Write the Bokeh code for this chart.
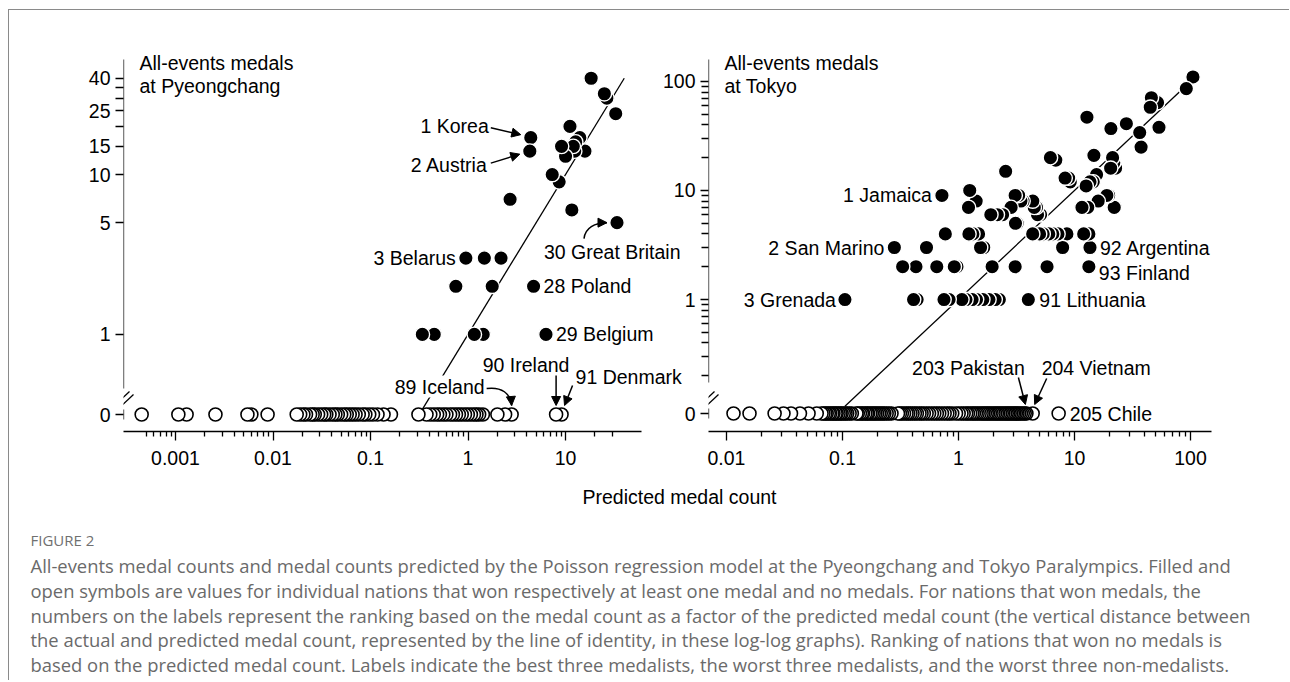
import math
from bokeh.plotting import figure
from bokeh.models import (Range1d, FixedTicker, ColumnDataSource, LabelSet, Label,
                          Arrow, NormalHead)
from bokeh.layouts import row, column
from bokeh.embed import file_html
from bokeh.resources import INLINE
from bokeh.core.properties import value

# ------------------------------------------------------------------ data
x_axis_title = "Predicted medal count"

# Pyeongchang: nations that won medals (predicted count, actual count)
pc_title = ["All-events medals", "at Pyeongchang"]
pc_win_pred = [18.3, 25.0, 26.5, 32.7, 11.1, 4.4, 14.0, 9.1, 12.7, 12.0,
               4.3, 15.8, 12.4, 10.0, 7.3, 8.6, 2.7, 11.6, 33.7, 0.95,
               1.47, 2.18, 0.75, 1.77, 4.7, 0.34, 0.45, 1.16, 1.43, 6.3]
pc_win_medals = [40, 32, 30, 24, 20, 17, 17, 15, 16, 15,
                 14, 14, 14, 13, 10, 9, 7, 6, 5, 3,
                 3, 3, 2, 2, 2, 1, 1, 1, 1, 1]
# Pyeongchang: nations with no medal (predicted count)
pc_zero_pred = [0.00045, 0.00107, 0.0013, 0.00257, 0.00547, 0.0060, 0.0088,
                0.0175, 0.019, 0.0205, 0.0218, 0.024, 0.0255, 0.0268, 0.029, 0.0312, 0.0335,
                0.0352, 0.038, 0.041, 0.0436, 0.0462, 0.05, 0.0538, 0.057, 0.0612, 0.0655,
                0.0702, 0.0758, 0.083, 0.0885, 0.097, 0.106, 0.118, 0.136, 0.162,
                0.31, 0.375, 0.41, 0.445, 0.482, 0.515, 0.558, 0.6, 0.655, 0.7,
                0.752, 0.805, 0.862, 0.93, 0.995, 1.07, 1.15, 1.22, 1.3, 1.42,
                2.0, 2.4, 2.8, 8.0, 9.1]
pc_identity = [0.34, 40]
pc_x_ticks = [0.001, 0.01, 0.1, 1, 10]
pc_x_tick_labels = ["0.001", "0.01", "0.1", "1", "10"]
pc_y_ticks = [1, 5, 10, 15, 20, 25, 30, 35, 40]
pc_y_tick_labels = ["1", "5", "10", "15", "", "25", "", "", "40"]
pc_lab_text = ["1 Korea", "2 Austria", "3 Belarus", "28 Poland", "29 Belgium",
               "30 Great Britain", "89 Iceland", "90 Ireland", "91 Denmark"]
pc_lab_pred = [4.4, 4.3, 0.95, 4.7, 6.3, 33.7, 2.8, 8.0, 9.1]
pc_lab_medals = [17, 14, 3, 2, 1, 5, 0, 0, 0]

# Tokyo
tk_title = ["All-events medals", "at Tokyo"]
tk_win_pred = [105, 92, 46, 45, 52, 12.8, 28, 20.6, 53.5, 36.5,
               37.5, 6.2, 6.9, 14.7, 21.3, 21.8, 20.5, 8.3, 9.2, 15.5,
               14.5, 12.6, 2.55, 0.72, 1.25, 1.42, 1.22, 3.08, 3.45, 4.37,
               4.5, 4.8, 11.6, 16, 19, 22, 13, 2.84, 3.2, 1.9,
               2.16, 3.1, 0.77, 1.23, 1.33, 1.49, 4.36, 5.0, 5.37, 6.0,
               6.5, 7.2, 8.6, 12, 13.3, 0.28, 0.53, 1.55, 1.65, 7.9,
               13.6, 0.33, 0.43, 0.65, 0.92, 0.97, 1.95, 3.08, 5.8, 13.3,
               0.105, 0.41, 0.44, 0.75, 0.83, 1.07, 1.16, 1.31, 1.43, 1.62,
               1.83, 2.07, 2.25, 4.0, 19.7, 22.6, 13.6, 8.9, 4.7, 3.3,
               3.6, 5.1, 2.4]
tk_win_medals = [110, 86, 71, 58, 64, 47, 41, 37, 38, 34,
                 25, 20, 19, 21, 20, 18, 16, 13, 12, 14,
                 12, 11, 15, 9, 10, 8, 7, 9, 8, 8,
                 7, 6, 7, 8, 9, 7, 7, 7, 5, 6,
                 6, 5, 4, 4, 4, 4, 4, 4, 4, 4,
                 4, 4, 4, 4, 4, 3, 3, 3, 3, 3,
                 3, 2, 2, 2, 2, 2, 2, 2, 2, 2,
                 1, 1, 1, 1, 1, 1, 1, 1, 1, 1,
                 1, 1, 1, 1, 9, 16, 12, 13, 7, 9,
                 8, 6, 6]
tk_zero_pred = [0.0115, 0.0158, 0.026, 0.031, 0.036, 0.043, 0.051, 0.060,
                0.066, 0.0685, 0.0712, 0.0731, 0.0762, 0.0785, 0.0818, 0.0836, 0.0872,
                0.0891, 0.0925, 0.0958, 0.0984, 0.1025, 0.1062, 0.1098, 0.1152, 0.1204,
                0.132, 0.1355, 0.1412, 0.1468, 0.1505, 0.1572, 0.1625, 0.1663, 0.1735,
                0.1792, 0.1856, 0.1921, 0.1987, 0.2065, 0.2138, 0.2224, 0.2295, 0.2403,
                0.2511, 0.2646,
                0.301, 0.3125, 0.3248, 0.3392, 0.3561, 0.3687, 0.3852, 0.4014, 0.4205,
                0.4377, 0.4612, 0.4803, 0.5026, 0.5311, 0.5575, 0.5892, 0.6184, 0.6507,
                0.6823, 0.7206, 0.7598, 0.8012, 0.8366, 0.8831,
                0.952, 1.004, 1.061, 1.108, 1.165, 1.207, 1.262, 1.314, 1.358, 1.412,
                1.463, 1.521,
                1.582, 1.634, 1.688, 1.752, 1.801, 1.864, 1.928, 2.003, 2.068, 2.141,
                2.207, 2.284, 2.361, 2.438, 2.522, 2.604, 2.681, 2.762, 2.851, 2.943,
                3.031, 3.122, 3.224, 3.332, 3.451, 3.582, 3.721, 3.85, 4.36,
                7.3]
tk_identity = [0.105, 85]
tk_x_ticks = [0.01, 0.1, 1, 10, 100]
tk_x_tick_labels = ["0.01", "0.1", "1", "10", "100"]
tk_y_ticks = [1, 10, 100]
tk_y_tick_labels = ["1", "10", "100"]
tk_lab_text = ["1 Jamaica", "2 San Marino", "3 Grenada", "91 Lithuania", "92 Argentina",
               "93 Finland", "203 Pakistan", "204 Vietnam", "205 Chile"]
tk_lab_pred = [0.72, 0.28, 0.105, 4.0, 13.6, 13.3, 3.85, 4.36, 7.3]
tk_lab_medals = [9, 3, 1, 1, 3, 2, 0, 0, 0]

caption_head = "FIGURE 2"
caption_lines = [
    "All-events medal counts and medal counts predicted by the Poisson regression model at the Pyeongchang and Tokyo Paralympics. Filled and",
    "open symbols are values for individual nations that won respectively at least one medal and no medals. For nations that won medals, the",
    "numbers on the labels represent the ranking based on the medal count as a factor of the predicted medal count (the vertical distance between",
    "the actual and predicted medal count, represented by the line of identity, in these log-log graphs). Ranking of nations that won no medals is",
    "based on the predicted medal count. Labels indicate the best three medalists, the worst three medalists, and the worst three non-medalists.",
]

# ------------------------------------------------------------------ style / layout
FONT = "Liberation Sans"
FS = "19.5px"
CAP_FONT = "Open Sans"
MARGIN_TOP, MARGIN_LEFT = 9, 8
OFF_X, OFF_Y = MARGIN_LEFT + 1, MARGIN_TOP + 1     # content origin inside the 1px border
FH = 372                 # visual plot height (spine top to x axis)
EXT_TOP = 30             # extra frame above the visual plot (room for titles)
MB_TOP, MB_BOTTOM = 49, 45
FW_L, MBL_L, EXT_R_L = 518, 114, 59
FW_R, MBL_R, EXT_R_R = 503, 8, 71
PC_XR, PC_YR = (0.000293, 60.1), (0.247, 52.4)
TK_XR, TK_YR = (0.0070, 151.7), (0.0616, 159.0)
CAP_X = 30

# label offsets in screen px relative to the labelled point (x right, y up)
pc_lab_style = {
    "1 Korea": (-42, 12, "right"), "2 Austria": (-42, -14, "right"),
    "3 Belarus": (-10, 0, "right"), "28 Poland": (10, 0, "left"),
    "29 Belgium": (10, 0, "left"), "30 Great Britain": (-73, -29, "left"),
    "89 Iceland": (-27, 28, "right"), "90 Ireland": (-30, 50, "center"),
    "91 Denmark": (14, 38, "left"),
}
pc_arrows = {"1 Korea": ((-40, 10), (-10, 3)), "2 Austria": ((-39, -12), (-10, -3)),
             "90 Ireland": ((0, 39), (0, 9)), "91 Denmark": ((11, 29), (3, 9))}
pc_curves = {"30 Great Britain": ((-33, -16), (-32, -5), (-22, 0), (-10, 0)),
             "89 Iceland": ((-25, 26), (-10, 28), (-1, 21), (0, 9))}
tk_lab_style = {
    "1 Jamaica": (-10, 0, "right"), "2 San Marino": (-10, 0, "right"),
    "3 Grenada": (-9, 0, "right"), "91 Lithuania": (11, 0, "left"),
    "92 Argentina": (10, 0, "left"), "93 Finland": (10, -6, "left"),
    "203 Pakistan": (-58, 46, "center"), "204 Vietnam": (9, 46, "left"),
    "205 Chile": (11, 0, "left"),
}
tk_arrows = {"203 Pakistan": ((-8, 36), (-1, 9)), "204 Vietnam": ((14, 35), (2, 9))}
tk_curves = {}


def minor_list(k0, k1, lo, hi):
    out = []
    for k in range(k0, k1 + 1):
        for m in range(2, 10):
            t = m * 10.0 ** k
            if lo * 0.999 <= t <= hi * 1.001:
                out.append(t)
    return out


def build_panel(xr, yr, fw, mbl, ext_r, title, win_pred, win_medals, zero_pred, identity,
                x_ticks, x_labels, x_minor, y_ticks, y_labels, y_minor, show_y_labels,
                lab_text, lab_pred, lab_medals, lab_style, arrows, curves, zero_px, spine_px):
    lx = math.log10(xr[1] / xr[0])
    ly = math.log10(yr[1] / yr[0])

    def xl(px):      # px from the left of the visual plot
        return xr[0] * 10 ** (px * lx / fw)

    def yt(px):      # px from the top of the visual plot
        return yr[1] * 10 ** (-px * ly / FH)

    def sx(v, px):
        return v * 10 ** (px * lx / fw)

    def sy(v, px):
        return v * 10 ** (px * ly / FH)

    zero = yt(zero_px)
    p = figure(x_axis_type="log", y_axis_type="log",
               x_range=Range1d(xr[0], xl(fw + ext_r)), y_range=Range1d(yr[0], yt(-EXT_TOP)),
               frame_width=fw + ext_r, frame_height=FH + EXT_TOP,
               min_border_left=mbl, min_border_right=0,
               min_border_top=MB_TOP - EXT_TOP, min_border_bottom=MB_BOTTOM,
               output_backend="svg", toolbar_location=None)
    p.grid.visible = False
    p.outline_line_color = None

    xa = p.xaxis[0]
    xa.bounds = xr
    xa.ticker = FixedTicker(ticks=x_ticks, minor_ticks=x_minor)
    xa.major_label_overrides = dict(zip(x_ticks, x_labels))
    xa.axis_line_width = 1.3
    xa.major_tick_out, xa.major_tick_in = 9, 0
    xa.minor_tick_out, xa.minor_tick_in = 5, 0
    xa.major_tick_line_width = 1.3
    xa.minor_tick_line_width = 1.3
    xa.major_label_text_font = FONT
    xa.major_label_text_font_size = FS
    xa.major_label_text_color = "black"
    xa.major_label_standoff = 10

    ya = p.yaxis[0]
    ya.ticker = FixedTicker(ticks=[zero] + y_ticks, minor_ticks=y_minor)
    if show_y_labels:
        ov = {zero: "0"}
        ov.update(dict(zip(y_ticks, y_labels)))
        ya.major_label_standoff = 5
    else:
        ov = {t: "" for t in [zero] + y_ticks}
        ya.major_label_standoff = 0
    ya.major_label_overrides = ov
    ya.axis_line_color = None
    ya.major_tick_out, ya.major_tick_in = 8, 0
    ya.minor_tick_out, ya.minor_tick_in = 7, 0
    ya.major_tick_line_width = 1.3
    ya.minor_tick_line_width = 1.3
    ya.major_label_text_font = FONT
    ya.major_label_text_font_size = FS
    ya.major_label_text_color = "black"

    # broken y spine
    for (x0, y0, x1, y1) in [(xr[0], yt(spine_px), xr[0], yr[1]),
                             (xr[0], yt(zero_px - 5), xr[0], yt(zero_px + 5)),
                             (xl(-9), yt(346), xl(6), yt(332)),
                             (xl(-5), yt(349), xl(10), yt(335))]:
        p.add_layout(Arrow(x_start=x0, y_start=y0, x_end=x1, y_end=y1, end=None,
                           line_color="black", line_width=1.3))

    # identity line
    p.line(x=identity, y=identity, line_color="black", line_width=1.3)

    # non-medalists (open) and medalists (filled), right-most drawn first
    zs = sorted(zero_pred, reverse=True)
    p.scatter(x=zs, y=[zero] * len(zs), marker="circle", size=13,
              fill_color="white", line_color="black", line_width=1.6)
    pairs = sorted(zip(win_pred, win_medals), key=lambda t: -t[0])
    p.scatter(x=[a for a, b in pairs], y=[b for a, b in pairs], marker="circle", size=14.5,
              fill_color="black", line_color="white", line_width=1.4)

    # titles
    for i, t in enumerate(title):
        p.add_layout(Label(x=xl(16), y=yt(3 + 23 * i), text=t, text_font=FONT,
                           text_font_size=FS, text_baseline="middle", text_align="left",
                           text_color="black"))

    # point labels
    anchor = {}
    for t, xv, mv in zip(lab_text, lab_pred, lab_medals):
        anchor[t] = (xv, mv if mv > 0 else zero)
    for align in ["left", "right", "center"]:
        for bg in [False, True]:
            rows = [t for t in lab_text if lab_style[t][2] == align
                    and ((t == "89 Iceland") == bg)]
            if not rows:
                continue
            src = ColumnDataSource(dict(
                x=[anchor[t][0] for t in rows], y=[anchor[t][1] for t in rows],
                t=rows, dx=[lab_style[t][0] for t in rows], dy=[lab_style[t][1] for t in rows]))
            kw = dict(background_fill_color="white") if bg else {}
            p.add_layout(LabelSet(x="x", y="y", text="t", x_offset="dx", y_offset="dy",
                                  source=src, text_align=align, text_baseline="middle",
                                  text_font=value(FONT), text_font_size=FS,
                                  text_color="black", **kw))

    head = lambda: NormalHead(size=9, fill_color="black", line_color="black", line_width=1)
    for t, ((a0, b0), (a1, b1)) in arrows.items():
        xv, yv = anchor[t]
        p.add_layout(Arrow(x_start=sx(xv, a0), y_start=sy(yv, b0),
                           x_end=sx(xv, a1), y_end=sy(yv, b1), end=head(),
                           line_color="black", line_width=1.5))
    for t, (P0, C0, C1, P1) in curves.items():
        xv, yv = anchor[t]
        p.bezier(x0=[sx(xv, P0[0])], y0=[sy(yv, P0[1])], x1=[sx(xv, P1[0])], y1=[sy(yv, P1[1])],
                 cx0=[sx(xv, C0[0])], cy0=[sy(yv, C0[1])], cx1=[sx(xv, C1[0])], cy1=[sy(yv, C1[1])],
                 line_color="black", line_width=1.5)
        ddx, ddy = P1[0] - C1[0], P1[1] - C1[1]
        n = math.hypot(ddx, ddy) or 1.0
        p.add_layout(Arrow(x_start=sx(xv, P1[0] - 2 * ddx / n), y_start=sy(yv, P1[1] - 2 * ddy / n),
                           x_end=sx(xv, P1[0]), y_end=sy(yv, P1[1]), end=head(),
                           line_color="black", line_width=1.5))
    return p, xl, yt, zero


p1, xl1, yt1, z1 = build_panel(
    PC_XR, PC_YR, FW_L, MBL_L, EXT_R_L, pc_title, pc_win_pred, pc_win_medals, pc_zero_pred,
    pc_identity, pc_x_ticks, pc_x_tick_labels, minor_list(-4, 1, 0.0005, 30),
    pc_y_ticks, pc_y_tick_labels, [], True,
    pc_lab_text, pc_lab_pred, pc_lab_medals, pc_lab_style, pc_arrows, pc_curves,
    zero_px=355, spine_px=329)

p2, xl2, yt2, z2 = build_panel(
    TK_XR, TK_YR, FW_R, MBL_R, EXT_R_R, tk_title, tk_win_pred, tk_win_medals, tk_zero_pred,
    tk_identity, tk_x_ticks, tk_x_tick_labels, minor_list(-2, 1, 0.02, 90),
    tk_y_ticks, tk_y_tick_labels, minor_list(-1, 1, 0.2, 90), False,
    tk_lab_text, tk_lab_pred, tk_lab_medals, tk_lab_style, tk_arrows, tk_curves,
    zero_px=354, spine_px=323)

# Tokyo y tick labels, placed in the gap between the two panels (inside left frame)
ly_r = math.log10(TK_YR[1] / TK_YR[0])
r_vals = [z2] + tk_y_ticks
r_text = ["0"] + tk_y_tick_labels
r_px = [math.log10(TK_YR[1] / v) / ly_r * FH for v in r_vals]
gap_px = FW_L + EXT_R_L + MBL_R - 13
p1.add_layout(LabelSet(
    x="x", y="y", text="t",
    source=ColumnDataSource(dict(x=[xl1(gap_px)] * len(r_vals), y=[yt1(v) for v in r_px], t=r_text)),
    text_align="right", text_baseline="middle", text_font=value(FONT), text_font_size=FS,
    text_color="black"))

# x-axis title + caption (coordinates = page pixels)
CAP_W, CAP_H = 1280, 204
top_y = OFF_Y + MB_TOP + FH + MB_BOTTOM
cap = figure(width=CAP_W, height=CAP_H, x_range=Range1d(OFF_X, OFF_X + CAP_W),
             y_range=Range1d(top_y + CAP_H, top_y), output_backend="svg",
             toolbar_location=None, min_border=0, x_axis_location=None, y_axis_location=None)
cap.grid.visible = False
cap.outline_line_color = None
cap.text(x=[679], y=[496], text=[x_axis_title], text_align="center", text_baseline="middle",
         text_font=value(FONT), text_font_size=FS, text_color="black")
cap.text(x=[CAP_X], y=[539], text=[caption_head], text_align="left", text_baseline="middle",
         text_font=value(CAP_FONT), text_font_size="15px", text_color="#707070")
cap.text(x=[CAP_X] * len(caption_lines), y=[565 + 24.75 * i for i in range(len(caption_lines))],
         text=caption_lines, text_align="left", text_baseline="middle",
         text_font=value(CAP_FONT), text_font_size="18.4px", text_color="#6a6a6a")

layout = column(row(p1, p2), cap, margin=(MARGIN_TOP, 0, 0, MARGIN_LEFT),
                styles={"border-top": "1px solid #8a8a8a", "border-left": "1px solid #8a8a8a"})

open("out.html", "w").write(file_html(layout, INLINE))
